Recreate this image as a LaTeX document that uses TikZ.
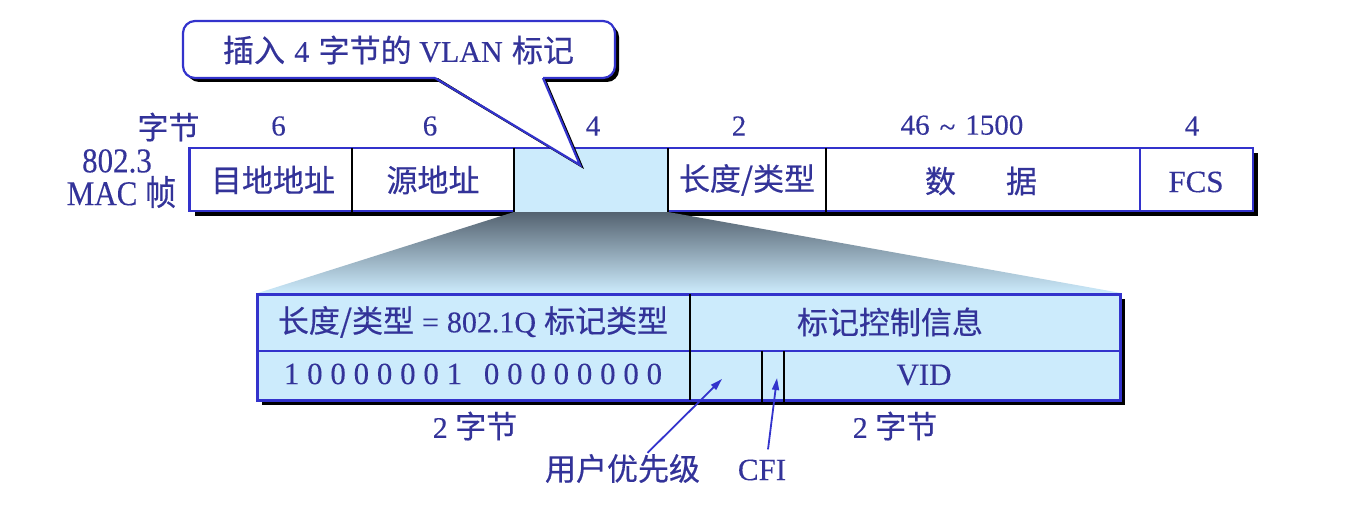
\documentclass[tikz,border=0pt]{standalone}
\usepackage{fontspec}
\setmainfont[FakeBold=0.25]{Liberation Serif}
\newfontfamily\cjk[FakeBold=0.5]{Noto Sans CJK SC}
\usetikzlibrary{arrows.meta,calc}
\definecolor{txt}{RGB}{51,51,153}
\definecolor{bd}{RGB}{51,51,204}
\definecolor{lb}{RGB}{204,235,252}
\definecolor{gtop}{RGB}{84,98,112}
\definecolor{gmid}{RGB}{158,186,204}
\newcommand\fsz[1]{\fontsize{#1}{#1}\selectfont}
\begin{document}
\begin{tikzpicture}[x=1pt,y=-1pt,
  every node/.style={text=txt,inner sep=0pt},
  zh/.style={font=\cjk\fsz{31}},
  la/.style={font=\fsz{29}},
  frameline/.style={bd,line width=2.4pt},
  divline/.style={black,line width=2pt},
  arr/.style={bd,line width=1.8pt,-{Triangle[length=12pt,width=7pt]}}]
\useasboundingbox (0,0) rectangle (1367,505);
% ---- top frame ----
\fill[black] (194.5,153) rectangle (1258,216);
\shade[top color=gtop,middle color=gmid,bottom color=lb] (514,212) -- (668,212) -- (1121,293) -- (258,293) -- cycle;
\fill[white] (189.5,148) rectangle (1253,211);
\fill[lb] (514,148) rectangle (668,212);
\draw[frameline,line join=miter] (514,211) -- (189.5,211) -- (189.5,148) -- (1253,148) -- (1253,211) -- (668,211);
\foreach \x in {352,514,668,826} \draw[divline] (\x,148) -- (\x,211.5);
\draw[frameline] (1140,148) -- (1140,211);
% header
\node[zh] (zj) at (168.5,127) {字节};
\node[la] (n1) at (278.5,126) {6};
\node[la] (n2) at (430,126) {6};
\node[la] (n3) at (593,126) {4};
\node[la] (n4) at (739,126) {2};
\node[la] (n5) at (962,126) {46\hspace{10pt}\raisebox{-2pt}{\textasciitilde}\hspace{10pt}1500};
\node[la] (n6) at (1192,126) {4};
\node[font=\fsz{31}] (fa) at (117,161) {\scalebox{1}[1.12]{802.3}};
\node[font=\fsz{31}] (fb) at (121.5,192) {\scalebox{1}[1.12]{MAC {\cjk 帧}}};
% cells
\node[zh] (c1) at (273,180) {目地地址};
\node[zh] (c2) at (433,180) {源地址};
\node[zh] (c4) at (747,180) {长度/类型};
\node[zh] (c5) at (981,181) {数\hspace{50pt}据};
\node[font=\fsz{31}] (c6) at (1196,182) {FCS};
% ---- lower table ----
\fill[black] (262,299) rectangle (1125,405);
\fill[lb] (257,294) rectangle (1120,400);
\draw[bd,line width=3pt] (257,294) rectangle (1120,400);
\draw[bd,line width=2.4pt] (257,351) -- (1120,351);
\draw[divline] (689.5,294) -- (689.5,400);
\draw[divline] (762,351) -- (762,404);
\draw[divline] (783.5,351) -- (783.5,404);
\node[font=\fsz{30}] (t1) at (473,322) {{\cjk\fsz{31}长度/类型}\kern8pt=\kern8pt802.1Q\kern8pt{\cjk\fsz{31}标记类型}};
\node[zh] (t2) at (890,322) {标记控制信息};
\node[font=\fsz{31}] (b1) at (473,374) {1 0 0 0 0 0 0 1\hspace{14pt} 0 0 0 0 0 0 0 0};
\node[font=\fsz{31}] (vid) at (924,375) {VID};
\coordinate (usrtip) at (722,379);
\coordinate (cfitip) at (777,378);
% bottom labels
\node[font=\fsz{30}] (l2a) at (475,426) {2 {\cjk\fsz{31}字节}};
\node[font=\fsz{30}] (l2b) at (895,426) {2 {\cjk\fsz{31}字节}};
\node[zh] (usr) at (622.5,468.5) {用户优先级};
\node[font=\fsz{31}] (cfi) at (762,470) {CFI};
\draw[arr] ($(usr.north)+(25,-1)$) -- (usrtip);
\draw[arr] ($(cfi.north)+(6,-10)$) -- (cfitip);
% ---- callout ----
\fill[black,shift={(4,4)},rounded corners=12pt] (183,21) rectangle (615,78);
\fill[black,shift={(4,4)}] (435,78) -- (543,78) -- (580,165) -- cycle;
\fill[white,rounded corners=12pt] (183,21) rectangle (615,78);
\fill[white] (435,76) -- (543,76) -- (580,165) -- cycle;
\draw[bd,line width=2.2pt,rounded corners=12pt] (435,78) -- (183,78) -- (183,21) -- (615,21) -- (615,78) -- (543,78);
\draw[bd,line width=2.2pt,line join=miter] (543,78) -- (580,165) -- (435,78);
\node[zh] (call) at (398.5,50) {插入\hspace{0.3em}{\rmfamily\fsz{30}4}\hspace{0.3em}字节的\hspace{0.25em}{\rmfamily\fsz{30}VLAN}\hspace{0.3em}标记};
\end{tikzpicture}
\end{document}
